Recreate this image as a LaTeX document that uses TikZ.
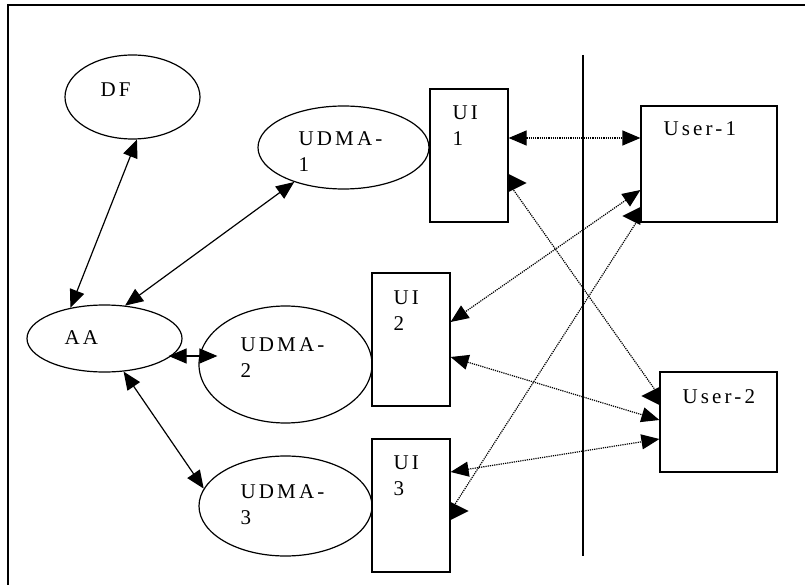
\documentclass[tikz,border=0pt]{standalone}
\usepackage{fontspec}
\setmainfont{Liberation Serif}[LetterSpace=15]
\usetikzlibrary{arrows.meta,shapes.geometric}
% flat arrow head standing on a box side
\newcommand\sidehead[2]{\fill (#1) ++(0,9pt) -- ++(0,-18pt) -- ++(#2,9pt) -- cycle;}

\begin{document}
\begin{tikzpicture}[x=1pt, y=-1pt, line width=1.2pt,
    oval/.style={ellipse, draw, inner sep=0pt},
    box/.style={rectangle, draw, inner sep=0pt},
    txt/.style={anchor=base west, inner sep=0pt, align=left, font=\fontsize{21}{26}\selectfont},
    link/.style={{Triangle[length=18pt,width=15pt]}-{Triangle[length=18pt,width=15pt]}},
    dotline/.style={dash pattern=on 1.2pt off 1pt},
    dots/.style={link, dotline}]
\useasboundingbox (0,0) rectangle (805,585);
\draw[line width=1.5pt] (8,585) -- (8,5) -- (805,5);

% agents
\node[oval, minimum width=135pt, minimum height=84pt] (df) at (132.5,97) {};
\node[oval, minimum width=171pt, minimum height=83pt] (udma1) at (343.5,147.5) {};
\node[oval, minimum width=155pt, minimum height=67pt] (aa) at (104.5,338.5) {};
\node[oval, minimum width=173pt, minimum height=117pt] (udma2) at (285.5,364.5) {};
\node[oval, minimum width=173pt, minimum height=100pt] (udma3) at (285.5,506) {};
\node[box, minimum width=78pt, minimum height=133pt] (ui1) at (469,155.5) {};
\node[box, minimum width=78pt, minimum height=133pt] (ui2) at (411,339.5) {};
\node[box, minimum width=78pt, minimum height=133pt] (ui3) at (411,505.5) {};
\node[box, minimum width=136pt, minimum height=116pt] (user1) at (709,164) {};
\node[box, minimum width=117pt, minimum height=100pt] (user2) at (718.5,422) {};

% labels (base = last line)
\node[txt] (df-l) at (100,97) {DF};
\node[txt] (udma1-l) at (298,172) {UDMA-\\1};
\node[txt] (aa-l) at (64,344) {AA};
\node[txt] (udma2-l) at (240,377) {UDMA-\\2};
\node[txt] (udma3-l) at (240,524) {UDMA-\\3};
\node[txt] (ui1-l) at (452,146) {UI\\1};
\node[txt] (ui2-l) at (393,330) {UI\\2};
\node[txt] (ui3-l) at (393,495) {UI\\3};
\node[txt] (user1-l) at (663,136) {User-1};
\node[txt] (user2-l) at (682,403) {User-2};

% divider
\draw (583,55) -- (583,556);

% solid links
\draw[link] (df.-84) -- (aa.138);
\draw[link] (udma1.215) -- (aa.58.5);
\draw[link] ([xshift=-14pt,yshift=-17.5pt]aa.east) -- ([xshift=19pt,yshift=8.5pt]udma2.west);
\draw[link] (aa.-60.5) -- (udma3.168);

% dotted links
\draw[dots] ([yshift=17.5pt]ui1.east) -- ([yshift=26pt]user1.west);
\draw[dots] ([yshift=-26pt]user1.west) -- ([yshift=17.5pt]ui2.east);
\draw[dots] ([yshift=-17.5pt]ui2.east) -- ([yshift=2pt]user2.west);
\draw[dots] ([yshift=33.5pt]ui3.east) -- ([yshift=-17pt]user2.west);

\coordinate (h1) at ([yshift=-27.5pt]ui1.east);
\coordinate (h2) at ([yshift=26pt]user2.west);
\coordinate (h3) at ([yshift=-52pt]user1.west);
\coordinate (h4) at ([yshift=-5.5pt]ui3.east);
\draw[dotline] (h1) -- (h2);
\draw[dotline] (h3) -- (h4);
\sidehead{h1}{18pt}
\sidehead{h2}{-18pt}
\sidehead{h3}{-18pt}
\sidehead{h4}{18pt}
\end{tikzpicture}
\end{document}
